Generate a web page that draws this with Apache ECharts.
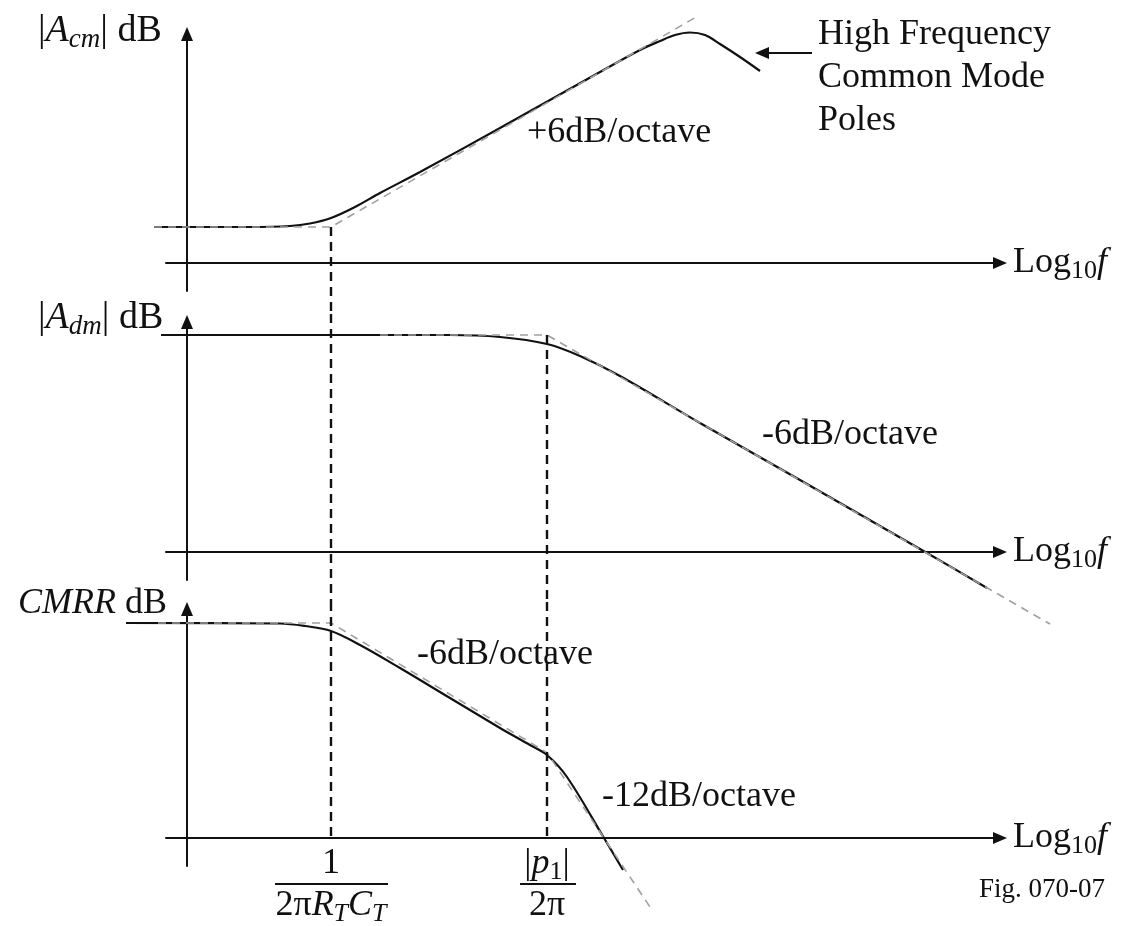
<!DOCTYPE html>
<html>
<head>
<meta charset="utf-8">
<script src="https://cdn.jsdelivr.net/npm/echarts@6/dist/echarts.min.js"></script>
<style>
  html, body { margin: 0; padding: 0; background: #fff; }
  #chart { width: 1121px; height: 926px; }
</style>
</head>
<body>
<div id="chart"></div>
<script>
// x is log10 f (arbitrary units), y is dB (arbitrary units)
const breakX = [1.44, 3.6] // 1/(2πRTCT), |p1|/2π

const acmCurve = [[-0.33, 3.6], [0.63, 3.6], [1.03, 3.7], [1.23, 3.95], [1.44, 4.5], [1.68, 5.6], [1.93, 7.0], [2.33, 9.1], [3.13, 13.5], [4.13, 19.1], [4.53, 21.3], [4.73, 22.2], [4.88, 22.8], [5.03, 23.05], [5.18, 22.8], [5.33, 21.9], [5.53, 20.6], [5.73, 19.2]]
const acmAsym = [[-0.33, 3.6], [1.44, 3.6], [5.11, 24.7]]

const admCurve = [[-0.26, 21.7], [2.63, 21.7], [3.13, 21.5], [3.6, 20.8], [3.93, 19.6], [4.33, 17.6], [5.13, 12.9], [6.13, 7.2], [7.4, -0.1], [8.0, -3.6]]
const admAsym = [[1.93, 21.7], [3.6, 21.7], [8.63, -7.2]]

const cmrrCurve = [[-0.61, 21.5], [0.93, 21.45], [1.18, 21.2], [1.44, 20.7], [1.73, 19.3], [2.13, 17.0], [2.63, 14.0], [3.13, 11.0], [3.43, 9.3], [3.6, 8.3], [3.8, 6.1], [4.17, 0], [4.36, -3.2]]
const cmrrAsym = [[-0.29, 21.5], [1.44, 21.5], [3.6, 8.54], [4.65, -7.2]]

// dashed guide lines at the break frequencies, per panel [top, bottom]
const guide1 = [[3.6, -5.1]]
const guide2 = [[23.8, -5.0], [21.7, -5.0]]
const guide3 = [[23.6, 0], [23.6, 0]]

const serif = 'Liberation Serif'
const ink = '#111'

function rich(size) {
  const sub = Math.round(size * 0.72)
  return {
    r: { fontSize: size, fontFamily: serif, color: ink, lineHeight: size + 6 },
    i: { fontSize: size, fontFamily: serif, fontStyle: 'italic', color: ink, lineHeight: size + 6 },
    s: { fontSize: sub, fontFamily: serif, color: ink, lineHeight: sub - 4, verticalAlign: 'bottom' },
    si: { fontSize: sub, fontFamily: serif, fontStyle: 'italic', color: ink, lineHeight: sub - 4, verticalAlign: 'bottom' }
  }
}

const panels = [
  { top: 34, height: 257, min: -2.8, max: 22.9 },
  { top: 322, height: 258, min: -2.8, max: 23.0 },
  { top: 609, height: 257, min: -2.8, max: 22.9 }
]
const axisX = { left: 166, width: 834, min: -0.21, max: 8.13 }
// wider grid with the same scale, so curves may run past the drawn axis ends
const plotX = { left: 120, width: 937, min: -0.67, max: 8.7 }

const grids = []
const xAxes = []
const yAxes = []
panels.forEach((p, i) => {
  grids.push({ left: axisX.left, width: axisX.width, top: p.top, height: p.height, containLabel: false, outerBoundsMode: 'none' })
  xAxes.push({
    type: 'value', gridIndex: i, min: axisX.min, max: axisX.max,
    name: '{r|Log}{s|10}{i|f}', nameLocation: 'end', nameGap: 13,
    nameTextStyle: { rich: rich(36) },
    axisLine: { onZero: true, symbol: ['none', 'triangle'], symbolSize: [12, 14], lineStyle: { color: ink, width: 2 } },
    axisTick: { show: false }, axisLabel: { show: false }, splitLine: { show: false }
  })
  yAxes.push({
    type: 'value', gridIndex: i, min: p.min, max: p.max,
    axisLine: { onZero: true, symbol: ['none', 'triangle'], symbolSize: [12, 14], lineStyle: { color: ink, width: 2 } },
    axisTick: { show: false }, axisLabel: { show: false }, splitLine: { show: false }
  })
})
panels.forEach((p, i) => {
  grids.push({ left: plotX.left, width: plotX.width, top: p.top, height: p.height, containLabel: false, outerBoundsMode: 'none' })
  xAxes.push({ type: 'value', gridIndex: 3 + i, min: plotX.min, max: plotX.max, show: false })
  yAxes.push({ type: 'value', gridIndex: 3 + i, min: p.min, max: p.max, show: false })
})

function curve(i, data) {
  return {
    type: 'line', xAxisIndex: 3 + i, yAxisIndex: 3 + i, data: data, smooth: 0.35,
    symbol: 'none', clip: false, silent: true,
    lineStyle: { color: ink, width: 2.2 }
  }
}
function asym(i, data) {
  return {
    type: 'line', xAxisIndex: 3 + i, yAxisIndex: 3 + i, data: data,
    symbol: 'none', clip: false, silent: true,
    lineStyle: { color: '#a0a0a0', width: 1.6, type: [8, 6] }
  }
}
function guide(i, x, y0, y1) {
  return {
    type: 'line', xAxisIndex: 3 + i, yAxisIndex: 3 + i, data: [[x, y0], [x, y1]],
    symbol: 'none', clip: false, silent: true,
    lineStyle: { color: ink, width: 2.4, type: [9, 6] }
  }
}

const series = [
  curve(0, acmCurve), asym(0, acmAsym),
  curve(1, admCurve), asym(1, admAsym),
  curve(2, cmrrCurve), asym(2, cmrrAsym),
  guide(0, breakX[0], acmAsym[0][1], guide1[0][1]),
  guide(1, breakX[0], guide2[0][0], guide2[0][1]),
  guide(1, breakX[1], guide2[1][0], guide2[1][1]),
  guide(2, breakX[0], guide3[0][0], guide3[0][1]),
  guide(2, breakX[1], guide3[1][0], guide3[1][1])
]

function text(x, y, str, align, size) {
  return {
    type: 'text', x: x, y: y, silent: true,
    style: {
      text: str, rich: rich(size || 36), fill: ink,
      fontFamily: serif, fontSize: size || 36,
      align: align || 'left', verticalAlign: 'middle',
      textAlign: align || 'left', textVerticalAlign: 'middle'
    }
  }
}
function bar(x0, x1, y) {
  return { type: 'line', silent: true, shape: { x1: x0, y1: y, x2: x1, y2: y }, style: { stroke: ink, lineWidth: 2 } }
}

const graphics = [
  text(38, 31, '{r|\u007c}{i|A}{si|cm}{r|\u007c dB}', 'left', 38),
  text(38, 318, '{r|\u007c}{i|A}{si|dm}{r|\u007c dB}', 'left', 38),
  text(18, 604, '{i|CMRR}{r| dB}'),
  text(527, 133, '{r|+6dB/octave}'),
  text(762, 435, '{r|-6dB/octave}'),
  text(417, 655, '{r|-6dB/octave}'),
  text(602, 797, '{r|-12dB/octave}'),
  text(818, 35, '{r|High Frequency}'),
  text(818, 78, '{r|Common Mode}'),
  text(818, 121, '{r|Poles}'),
  { type: 'line', silent: true, shape: { x1: 812, y1: 53, x2: 766, y2: 53 }, style: { stroke: ink, lineWidth: 2 } },
  { type: 'polygon', silent: true, shape: { points: [[755, 53], [769, 47], [769, 59]] }, style: { fill: ink } },
  text(331, 864, '{r|1}', 'center'),
  bar(275, 388, 884),
  text(331, 906, '{r|2\u03c0}{i|R}{si|T}{i|C}{si|T}', 'center'),
  text(547, 864, '{r|\u007c}{i|p}{s|1}{r|\u007c}', 'center'),
  bar(520, 576, 884),
  text(547, 906, '{r|2\u03c0}', 'center'),
  text(1105, 890, '{r|Fig. 070-07}', 'right', 27)
]

const chart = echarts.init(document.getElementById('chart'))
chart.setOption({
  backgroundColor: '#fff',
  animation: false,
  grid: grids,
  xAxis: xAxes,
  yAxis: yAxes,
  series: series,
  graphic: graphics
})
</script>
</body>
</html>
